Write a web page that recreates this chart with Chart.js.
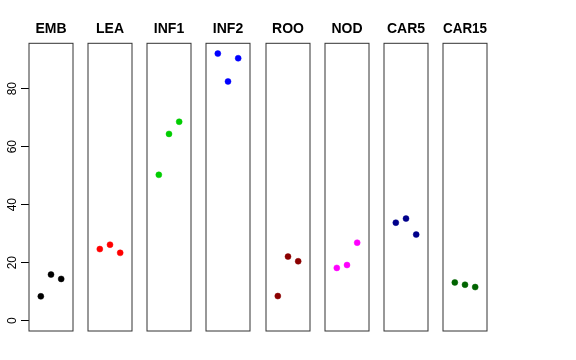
<!DOCTYPE html>
<html>
<head>
<meta charset="utf-8">
<script src="https://cdn.jsdelivr.net/npm/chart.js@4.4.0/dist/chart.umd.min.js"></script>
<style>
    body { margin: 0; background: #fff; width: 576px; height: 360px; overflow: hidden; position: relative; }
    canvas { position: absolute; top: 0; }
</style>
</head>
<body>
<script>
    // one panel per tissue, three replicates each
    var tissues = ['EMB', 'LEA', 'INF1', 'INF2', 'ROO', 'NOD', 'CAR5', 'CAR15'];
    var colors = ['#000000', '#FF0000', '#00CD00', '#0000FF', '#8B0000', '#FF00FF', '#00008B', '#006400'];
    var replicate = [1, 2, 3];

    var emb = [8.4, 15.9, 14.4];
    var lea = [24.7, 26.2, 23.4];
    var inf1 = [50.3, 64.4, 68.6];
    var inf2 = [92.1, 82.5, 90.5];
    var roo = [8.5, 22.1, 20.5];
    var nod = [18.2, 19.2, 26.9];
    var car5 = [33.8, 35.2, 29.7];
    var car15 = [13.2, 12.4, 11.6];
    var series = [emb, lea, inf1, inf2, roo, nod, car5, car15];

    var yTicks = [0, 20, 40, 60, 80];

    Chart.defaults.font.family = '"Liberation Sans", Arial, Helvetica, sans-serif';

    var boxPlugin = {
        id: 'box',
        afterDraw: function (chart) {
            var a = chart.chartArea;
            var ctx = chart.ctx;
            ctx.save();
            ctx.strokeStyle = '#333';
            ctx.lineWidth = 1;
            ctx.strokeRect(a.left, a.top, a.right - a.left, a.bottom - a.top);
            ctx.restore();
        }
    };

    tissues.forEach(function (name, i) {
        var canvas = document.createElement('canvas');
        canvas.width = 102;
        canvas.height = 360;
        var center = 51.15 + i * 59.1;
        canvas.style.left = (center - 51) + 'px';
        document.body.appendChild(canvas);

        var yAxis = {
            min: -3.55,
            max: 95.65,
            display: i === 0,
            afterBuildTicks: function (s) { s.ticks = yTicks.map(function (v) { return { value: v }; }); },
            grid: { drawOnChartArea: false, tickLength: 8, color: '#000' },
            border: { display: false },
            ticks: { color: '#000', font: { size: 12 }, minRotation: 90, maxRotation: 90, crossAlign: 'center', padding: 2 }
        };
        if (i === 0) {
            yAxis.afterFit = function (s) { s.width = 29; };
        }

        new Chart(canvas.getContext('2d'), {
            type: 'scatter',
            data: {
                datasets: [{
                    data: replicate.map(function (x, j) { return { x: x, y: series[i][j] }; }),
                    backgroundColor: colors[i],
                    borderColor: colors[i],
                    pointRadius: 3,
                    borderWidth: 0.5
                }]
            },
            options: {
                responsive: false,
                animation: false,
                layout: { padding: { left: i === 0 ? 0 : 29, right: 29, top: 0, bottom: 29 } },
                plugins: {
                    legend: { display: false },
                    tooltip: { enabled: false }
                },
                scales: {
                    // top x axis only carries the panel name, centred over the panel
                    x: {
                        type: 'linear', min: -0.16, max: 4.16, position: 'top',
                        grid: { display: false, drawTicks: false },
                        border: { display: false },
                        ticks: { display: false },
                        title: {
                            display: true,
                            text: name,
                            color: '#000',
                            font: { size: 14, weight: 'bold' },
                            padding: { top: 21, bottom: 5.5 }
                        }
                    },
                    y: yAxis
                }
            },
            plugins: [boxPlugin]
        });
    });
</script>
</body>
</html>
